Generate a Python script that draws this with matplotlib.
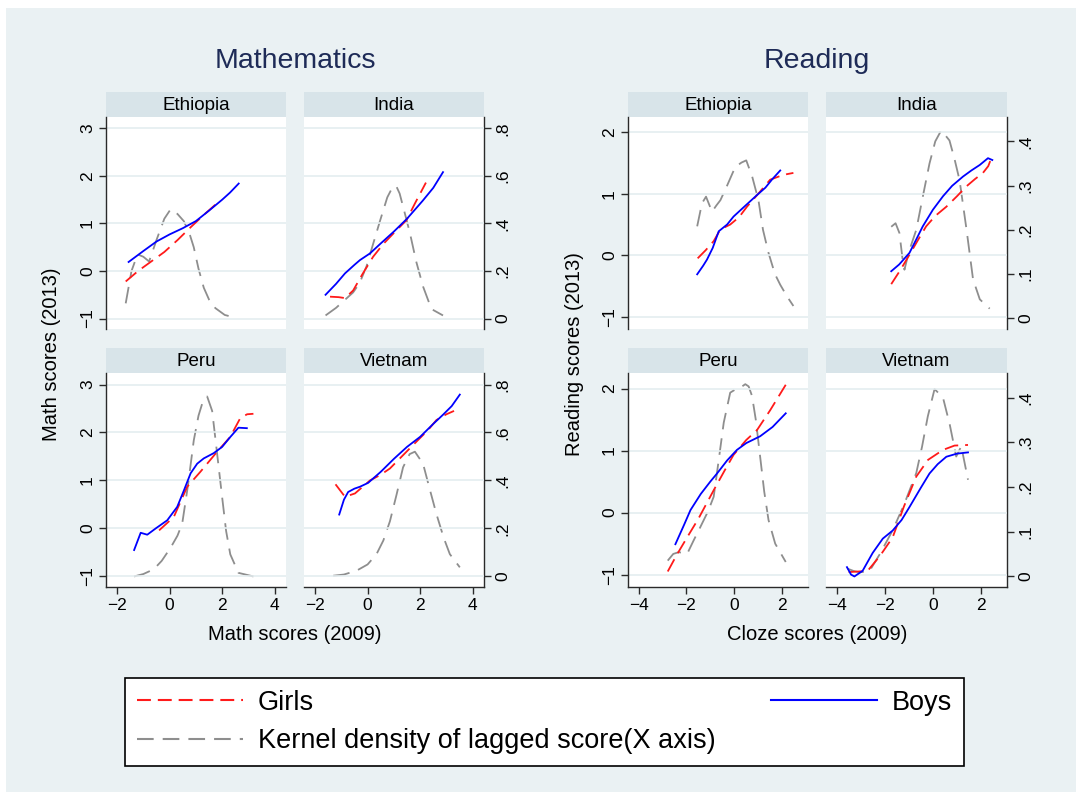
import matplotlib
matplotlib.use('Agg')
import matplotlib.pyplot as plt
from matplotlib.lines import Line2D
from matplotlib.patches import Rectangle

plt.rcParams['font.family'] = ['Liberation Sans', 'DejaVu Sans']
plt.rcParams['lines.scale_dashes'] = False

# ---- data ----
# Mathematics, Ethiopia
m_eth_boys_x = [-1.56, -1.0, -0.5, 0.0, 0.5, 1.0, 1.5, 2.0, 2.3, 2.63]
m_eth_boys_y = [0.19, 0.42, 0.62, 0.77, 0.9, 1.05, 1.27, 1.5, 1.65, 1.84]
m_eth_girls_x = [-1.67, -1.2, -0.7, -0.2, 0.3, 0.8, 1.3, 1.75]
m_eth_girls_y = [-0.22, 0.0, 0.2, 0.4, 0.65, 0.92, 1.18, 1.4]
m_eth_dens_x = [-1.67, -1.45, -1.22, -1.0, -0.78, -0.5, -0.2, 0.04, 0.3, 0.54,
                0.75, 0.92, 1.1, 1.3, 1.5, 1.74, 2.1, 2.56]
m_eth_dens_y = [0.064, 0.2, 0.27, 0.26, 0.24, 0.33, 0.42, 0.46, 0.44, 0.41,
                0.36, 0.30, 0.21, 0.13, 0.08, 0.044, 0.015, 0.002]

# Mathematics, India
m_ind_boys_x = [-1.6, -1.2, -0.86, -0.5, -0.29, 0.09, 0.5, 1.0, 1.5, 2.1, 2.5, 2.87]
m_ind_boys_y = [-0.5, -0.27, -0.05, 0.13, 0.23, 0.37, 0.58, 0.83, 1.1, 1.48, 1.75, 2.08]
m_ind_girls_x = [-1.43, -1.1, -0.86, -0.55, -0.2, 0.21, 0.6, 1.0, 1.48, 1.8, 2.22]
m_ind_girls_y = [-0.54, -0.55, -0.57, -0.41, -0.07, 0.30, 0.57, 0.80, 1.07, 1.42, 1.86]
m_ind_dens_x = [-1.6, -1.2, -0.93, -0.55, -0.3, -0.04, 0.2, 0.47, 0.75, 0.97,
                1.1, 1.22, 1.4, 1.61, 1.85, 2.11, 2.43, 2.87]
m_ind_dens_y = [0.013, 0.045, 0.072, 0.11, 0.15, 0.22, 0.31, 0.41, 0.51, 0.557,
                0.555, 0.526, 0.45, 0.36, 0.24, 0.135, 0.04, 0.013]

# Mathematics, Peru
m_per_boys_x = [-1.35, -1.1, -0.85, -0.53, -0.09, 0.29, 0.55, 0.8, 1.05, 1.3,
                1.68, 2.0, 2.3, 2.62, 2.94]
m_per_boys_y = [-0.45, -0.09, -0.13, 0.0, 0.17, 0.45, 0.8, 1.15, 1.35, 1.46,
                1.57, 1.7, 1.9, 2.1, 2.09]
m_per_girls_x = [-0.4, 0.16, 0.67, 1.17, 1.81, 2.31, 2.69, 2.95, 3.19]
m_per_girls_y = [-0.04, 0.24, 0.87, 1.18, 1.60, 1.91, 2.30, 2.38, 2.39]
m_per_dens_x = [-1.35, -1.0, -0.6, -0.3, 0.04, 0.3, 0.48, 0.7, 0.92, 1.1,
                1.24, 1.43, 1.62, 1.8, 2.0, 2.15, 2.31, 2.62, 3.19]
m_per_dens_y = [0.0, 0.01, 0.03, 0.065, 0.12, 0.17, 0.22, 0.38, 0.567, 0.67,
                0.72, 0.75, 0.69, 0.52, 0.33, 0.19, 0.092, 0.015, 0.0]

# Mathematics, Vietnam
m_vie_boys_x = [-1.08, -0.9, -0.74, -0.5, -0.29, 0.02, 0.5, 1.0, 1.5, 2.0,
                2.5, 2.87, 3.2, 3.51]
m_vie_boys_y = [0.29, 0.6, 0.76, 0.83, 0.87, 0.95, 1.18, 1.45, 1.7, 1.91,
                2.18, 2.37, 2.55, 2.79]
m_vie_girls_x = [-1.22, -0.86, -0.48, 0.09, 0.5, 0.85, 1.3, 1.86, 2.3, 2.62, 3.0, 3.29]
m_vie_girls_y = [0.92, 0.66, 0.73, 1.0, 1.12, 1.25, 1.5, 1.81, 2.05, 2.26, 2.38, 2.45]
m_vie_dens_x = [-1.31, -0.9, -0.42, 0.0, 0.34, 0.6, 0.85, 1.1, 1.35, 1.6,
                1.8, 2.11, 2.35, 2.62, 2.9, 3.13, 3.51]
m_vie_dens_y = [0.003, 0.008, 0.024, 0.05, 0.093, 0.15, 0.23, 0.34, 0.455, 0.51,
                0.52, 0.47, 0.37, 0.26, 0.16, 0.093, 0.038]

# Reading, Ethiopia
r_eth_boys_x = [-1.55, -1.3, -1.14, -0.9, -0.65, -0.3, -0.03, 0.5, 0.95, 1.3, 1.57, 1.92]
r_eth_boys_y = [-0.31, -0.17, -0.07, 0.12, 0.39, 0.5, 0.63, 0.82, 0.98, 1.1, 1.23, 1.38]
r_eth_girls_x = [-1.53, -1.2, -0.86, -0.58, -0.17, 0.2, 0.53, 1.0, 1.5, 1.92, 2.2, 2.47]
r_eth_girls_y = [-0.05, 0.08, 0.23, 0.42, 0.5, 0.62, 0.79, 1.0, 1.23, 1.29, 1.32, 1.34]
r_eth_dens_x = [-1.55, -1.35, -1.18, -0.93, -0.75, -0.58, -0.3, 0.04, 0.3, 0.5,
                0.75, 1.01, 1.2, 1.43, 1.7, 1.92, 2.2, 2.47]
r_eth_dens_y = [0.208, 0.26, 0.275, 0.241, 0.255, 0.267, 0.3, 0.342, 0.352, 0.357,
                0.32, 0.267, 0.2, 0.148, 0.1, 0.076, 0.05, 0.028]

# Reading, India
r_ind_boys_x = [-1.73, -1.4, -0.97, -0.7, -0.42, 0.0, 0.42, 0.8, 1.25, 1.6, 1.95, 2.29, 2.47]
r_ind_boys_y = [-0.26, -0.15, 0.04, 0.25, 0.47, 0.74, 0.96, 1.13, 1.28, 1.38, 1.47, 1.58, 1.55]
r_ind_girls_x = [-1.73, -1.35, -0.97, -0.6, -0.28, 0.1, 0.56, 1.0, 1.39, 1.75, 2.08, 2.3, 2.47]
r_ind_girls_y = [-0.47, -0.24, 0.01, 0.26, 0.47, 0.64, 0.79, 0.96, 1.12, 1.24, 1.34, 1.45, 1.62]
r_ind_dens_x = [-1.73, -1.55, -1.39, -1.25, -1.18, -1.0, -0.69, -0.4, -0.14, 0.1,
                0.35, 0.69, 0.9, 1.11, 1.4, 1.67, 1.95, 2.36]
r_ind_dens_y = [0.207, 0.215, 0.193, 0.13, 0.11, 0.15, 0.2, 0.28, 0.35, 0.4,
                0.425, 0.402, 0.36, 0.312, 0.2, 0.088, 0.043, 0.022]

# Reading, Peru
r_per_boys_x = [-2.46, -2.1, -1.83, -1.4, -1.0, -0.72, -0.3, 0.11, 0.5, 1.08, 1.6, 2.15]
r_per_boys_y = [-0.51, -0.2, 0.04, 0.3, 0.5, 0.63, 0.84, 1.01, 1.12, 1.23, 1.38, 1.60]
r_per_girls_x = [-2.78, -2.4, -1.97, -1.5, -0.86, -0.4, -0.03, 0.5, 0.95, 1.5, 2.15]
r_per_girls_y = [-0.95, -0.68, -0.40, -0.1, 0.36, 0.68, 0.93, 1.17, 1.33, 1.65, 2.06]
r_per_dens_x = [-2.78, -2.55, -2.32, -1.97, -1.7, -1.42, -1.1, -0.86, -0.65, -0.44,
                -0.17, 0.1, 0.25, 0.46, 0.6, 0.74, 0.9, 1.08, 1.25, 1.43, 1.71, 2.15]
r_per_dens_y = [0.035, 0.05, 0.054, 0.05, 0.08, 0.11, 0.145, 0.178, 0.26, 0.344,
                0.411, 0.42, 0.422, 0.43, 0.425, 0.404, 0.35, 0.268, 0.19, 0.126, 0.073, 0.032]

# Reading, Vietnam
r_vie_boys_x = [-3.57, -3.4, -3.26, -2.92, -2.5, -2.08, -1.67, -1.3, -0.97, -0.5,
                -0.14, 0.2, 0.56, 1.0, 1.46]
r_vie_boys_y = [-0.88, -1.0, -1.03, -0.94, -0.65, -0.42, -0.29, -0.12, 0.09, 0.40,
                0.63, 0.78, 0.90, 0.95, 0.97]
r_vie_girls_x = [-3.5, -3.1, -2.71, -2.2, -1.67, -1.2, -0.69, -0.2, 0.42, 0.9, 1.46]
r_vie_girls_y = [-0.96, -0.95, -0.94, -0.7, -0.40, 0.1, 0.58, 0.85, 1.01, 1.08, 1.09]
r_vie_dens_x = [-3.54, -3.3, -3.06, -2.64, -2.2, -1.67, -1.2, -0.69, -0.45, -0.21,
                0.07, 0.42, 0.7, 0.97, 1.18, 1.46]
r_vie_dens_y = [0.017, 0.012, 0.009, 0.011, 0.05, 0.103, 0.16, 0.231, 0.29, 0.358,
                0.419, 0.40, 0.34, 0.268, 0.291, 0.216]

countries = ['Ethiopia', 'India', 'Peru', 'Vietnam']
math_yticks = [-1, 0, 1, 2, 3]
math_dticks = [0, 0.2, 0.4, 0.6, 0.8]
math_dlabels = ['0', '.2', '.4', '.6', '.8']
math_xticks = [-2, 0, 2, 4]
read_yticks = [-1, 0, 1, 2]
read_dticks = [0, 0.1, 0.2, 0.3, 0.4]
read_dlabels = ['0', '.1', '.2', '.3', '.4']
read_xticks = [-4, -2, 0, 2]

panels = {
    'math': [
        (m_eth_boys_x, m_eth_boys_y, m_eth_girls_x, m_eth_girls_y, m_eth_dens_x, m_eth_dens_y),
        (m_ind_boys_x, m_ind_boys_y, m_ind_girls_x, m_ind_girls_y, m_ind_dens_x, m_ind_dens_y),
        (m_per_boys_x, m_per_boys_y, m_per_girls_x, m_per_girls_y, m_per_dens_x, m_per_dens_y),
        (m_vie_boys_x, m_vie_boys_y, m_vie_girls_x, m_vie_girls_y, m_vie_dens_x, m_vie_dens_y),
    ],
    'read': [
        (r_eth_boys_x, r_eth_boys_y, r_eth_girls_x, r_eth_girls_y, r_eth_dens_x, r_eth_dens_y),
        (r_ind_boys_x, r_ind_boys_y, r_ind_girls_x, r_ind_girls_y, r_ind_dens_x, r_ind_dens_y),
        (r_per_boys_x, r_per_boys_y, r_per_girls_x, r_per_girls_y, r_per_dens_x, r_per_dens_y),
        (r_vie_boys_x, r_vie_boys_y, r_vie_girls_x, r_vie_girls_y, r_vie_dens_x, r_vie_dens_y),
    ],
}

settings = {
    'math': dict(xlim=(-2.42, 4.43), ylim=(-1.22, 3.24), dlim=(-0.044, 0.848),
                 yticks=math_yticks, dticks=math_dticks, dlabels=math_dlabels,
                 xticks=math_xticks, cols=[(106, 286), (304, 484)]),
    'read': dict(xlim=(-4.44, 3.08), ylim=(-1.2, 2.25), dlim=(-0.024, 0.455),
                 yticks=read_yticks, dticks=read_dticks, dlabels=read_dlabels,
                 xticks=read_xticks, cols=[(628, 808), (826, 1007)]),
}

W, H = 1076, 792
BG = '#eaf1f3'
STRIP = '#d8e4e9'
GRID = '#e4edf0'
SPINE = '#2a2a2a'
RED = '#ff1a1a'
BLUE = '#0000ff'
GRAY = '#8e8e8e'
RED_DASH = (0, (10, 5))
GRAY_DASH = (0, (12, 6.5))
rows = [(92, 117, 329), (348, 373, 587)]


def px_box(x0, y0, x1, y1):
    return [x0 / W, 1 - y1 / H, (x1 - x0) / W, (y1 - y0) / H]


fig = plt.figure(figsize=(W / 100, H / 100), dpi=100)
fig.patch.set_facecolor('white')
fig.patches.append(Rectangle((6 / W, 0), 1, 1 - 8 / H, transform=fig.transFigure,
                             facecolor=BG, edgecolor='none', zorder=-10))

for group, st in settings.items():
    for i, country in enumerate(countries):
        r, c = divmod(i, 2)
        x0, x1 = st['cols'][c]
        ys0, ys1, ys2 = rows[r]
        bx, by, gx, gy, dx, dy = panels[group][i]

        sax = fig.add_axes(px_box(x0, ys0, x1, ys1))
        sax.set_facecolor(STRIP)
        sax.set_xticks([])
        sax.set_yticks([])
        for s in sax.spines.values():
            s.set_visible(False)
        sax.text(0.5, 0.45, country, ha='center', va='center', fontsize=13.5,
                 transform=sax.transAxes)

        ax = fig.add_axes(px_box(x0, ys1, x1, ys2))
        ax2 = ax.twinx()
        ax.set_zorder(ax2.get_zorder() + 1)
        ax.patch.set_visible(False)
        ax2.patch.set_visible(True)
        ax2.patch.set_facecolor('white')

        ax2.plot(dx, dy, color=GRAY, lw=1.3, linestyle=GRAY_DASH)
        ax.plot(gx, gy, color=RED, lw=1.3, linestyle=RED_DASH)
        ax.plot(bx, by, color=BLUE, lw=1.3)

        ax.set_xlim(*st['xlim'])
        ax.set_ylim(*st['ylim'])
        ax2.set_ylim(*st['dlim'])
        ax.set_yticks(st['yticks'])
        ax2.set_yticks(st['dticks'])
        ax2.set_yticklabels(st['dlabels'])
        ax.set_xticks(st['xticks'])
        ax.grid(axis='y', color=GRID, lw=1.2)
        ax.grid(axis='x', visible=False)

        for s in list(ax.spines.values()) + list(ax2.spines.values()):
            s.set_visible(False)
            s.set_color(SPINE)
            s.set_linewidth(1.0)

        ax.tick_params(axis='y', left=(c == 0), labelleft=(c == 0), right=False,
                       labelright=False, labelrotation=90, labelsize=12.5,
                       length=5, width=1, color=SPINE, pad=3)
        ax2.tick_params(axis='y', right=(c == 1), labelright=(c == 1), left=False,
                        labelleft=False, labelrotation=90, labelsize=12.5,
                        length=5, width=1, color=SPINE, pad=3)
        ax.tick_params(axis='x', bottom=(r == 1), labelbottom=(r == 1),
                       labelsize=12.5, length=5, width=1, color=SPINE, pad=3)
        for lab in ax.get_yticklabels() + ax2.get_yticklabels():
            lab.set_verticalalignment('center')
        if c == 0:
            ax.spines['left'].set_visible(True)
        else:
            ax2.spines['right'].set_visible(True)
        if r == 1:
            ax.spines['bottom'].set_visible(True)

TITLE = '#1e2b57'
fig.text(295 / W, 1 - 61 / H, 'Mathematics', ha='center', va='center',
         fontsize=20.5, color=TITLE)
fig.text(817 / W, 1 - 61 / H, 'Reading', ha='center', va='center',
         fontsize=20.5, color=TITLE)
fig.text(295 / W, 1 - 635 / H, 'Math scores (2009)', ha='center', va='center',
         fontsize=14.5)
fig.text(817 / W, 1 - 635 / H, 'Cloze scores (2009)', ha='center', va='center',
         fontsize=14.5)
fig.text(52 / W, 1 - 354 / H, 'Math scores (2013)', ha='center', va='center',
         fontsize=14.5, rotation=90)
fig.text(575 / W, 1 - 354 / H, 'Reading scores (2013)', ha='center', va='center',
         fontsize=14.5, rotation=90)

handles = [Line2D([], [], color=RED, lw=1.5, linestyle=RED_DASH),
           Line2D([], [], color=GRAY, lw=1.5, linestyle=GRAY_DASH),
           Line2D([], [], color=BLUE, lw=1.5)]
labels = ['Girls', 'Kernel density of lagged score(X axis)', 'Boys']
leg = fig.legend(handles, labels, ncol=2, mode='expand',
                 bbox_to_anchor=px_box(125, 677, 964, 767), loc='center',
                 fontsize=19.5, handlelength=3.9, handletextpad=0.55,
                 labelspacing=0.45, borderpad=0.45, fancybox=False,
                 framealpha=1, edgecolor='black', borderaxespad=0)
leg.get_frame().set_linewidth(1.2)

fig.savefig('out.png', dpi=100, facecolor=fig.get_facecolor())
